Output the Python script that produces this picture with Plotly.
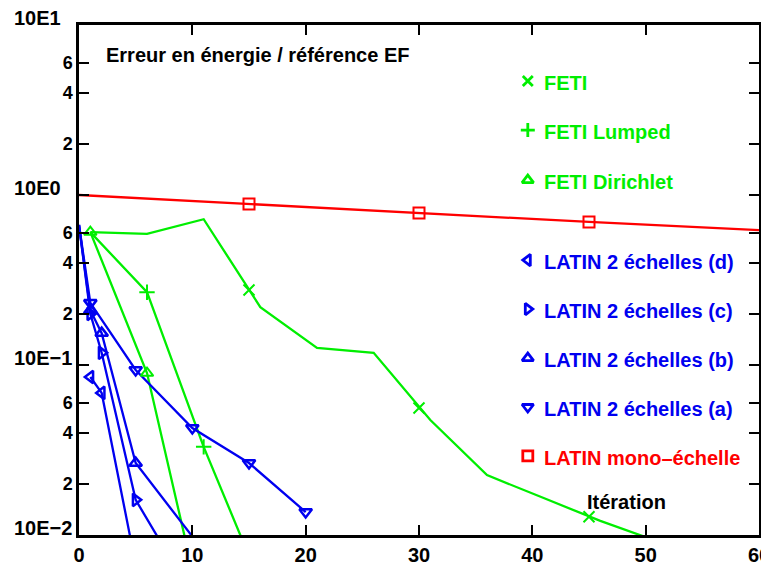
import math
import plotly.graph_objects as go

# ---------------- data ----------------
feti_x = [1, 6, 11, 16, 21, 26, 31, 36, 41, 46, 51]
feti_y = [0.605, 0.59, 0.72, 0.219, 0.126, 0.118, 0.0475, 0.0225, 0.0165, 0.0121, 0.0092]
feti_mx = [15, 30, 45]
feti_my = [0.276, 0.0558, 0.0128]

lumped_x = [1, 6, 11, 16]
lumped_y = [0.605, 0.268, 0.033, 0.0052]
lumped_mx = [6, 11]
lumped_my = [0.268, 0.033]

dirichlet_x = [1, 6, 11]
dirichlet_y = [0.605, 0.0897, 0.0032]
dirichlet_mx = [1, 6]
dirichlet_my = [0.605, 0.0897]

latin_d_x = [1, 2, 5]
latin_d_y = [0.085, 0.0685, 0.0067]
latin_d_mx = [1, 2]
latin_d_my = [0.085, 0.0685]

latin_c_x = [0, 1, 2, 5, 8]
latin_c_y = [0.667, 0.20, 0.118, 0.0161, 0.0074]
latin_c_mx = [1, 2, 5]
latin_c_my = [0.20, 0.118, 0.0161]

latin_b_x = [0, 1, 2, 5, 10]
latin_b_y = [0.667, 0.21, 0.154, 0.0265, 0.0098]
latin_b_mx = [1, 2, 5]
latin_b_my = [0.21, 0.154, 0.0265]

latin_a_x = [0, 1, 5, 10, 15, 20]
latin_a_y = [0.667, 0.232, 0.0935, 0.0426, 0.0265, 0.01365]
latin_a_mx = [1, 5, 10, 15, 20]
latin_a_my = [0.232, 0.0935, 0.0426, 0.0265, 0.01365]

mono_x = [0, 15, 30, 45, 60]
mono_y = [1.0, 0.885, 0.784, 0.694, 0.622]
mono_mx = [15, 30, 45]
mono_my = [0.885, 0.784, 0.694]

legend_names = ["FETI", "FETI Lumped", "FETI Dirichlet",
                "LATIN 2 échelles (d)", "LATIN 2 échelles (c)",
                "LATIN 2 échelles (b)", "LATIN 2 échelles (a)",
                "LATIN mono\u2013échelle"]

x_tickvals = [0, 10, 20, 30, 40, 50, 60]
y_tickvals = [0.01, 0.02, 0.04, 0.06, 0.1, 0.2, 0.4, 0.6, 1, 2, 4, 6, 10]
y_ticktext = ["", "2", "4", "6", "", "2", "4", "6", "", "2", "4", "6", ""]
decade_vals = [10, 1, 0.1, 0.01]
decade_text = ["10E1", "10E0", "10E\u22121", "10E\u22122"]

# ---------------- styles ----------------
GREEN = "#00ee00"
BLUE = "#0000f0"
RED = "#ff0000"
FONT = "Liberation Sans"
MS = 11
LW = 2.3

series = [
    (feti_x, feti_y, feti_mx, feti_my, GREEN, "x-thin", 2),
    (lumped_x, lumped_y, lumped_mx, lumped_my, GREEN, "cross-thin", 2),
    (dirichlet_x, dirichlet_y, dirichlet_mx, dirichlet_my, GREEN, "triangle-up-open", 2),
    (latin_d_x, latin_d_y, latin_d_mx, latin_d_my, BLUE, "triangle-left-open", 2.5),
    (latin_c_x, latin_c_y, latin_c_mx, latin_c_my, BLUE, "triangle-right-open", 2.5),
    (latin_b_x, latin_b_y, latin_b_mx, latin_b_my, BLUE, "triangle-up-open", 2.5),
    (latin_a_x, latin_a_y, latin_a_mx, latin_a_my, BLUE, "triangle-down-open", 2.5),
    (mono_x, mono_y, mono_mx, mono_my, RED, "square-open", 2),
]

fig = go.Figure()
for lx, ly, mx, my, col, sym, mlw in series:
    fig.add_trace(go.Scatter(x=lx, y=ly, mode="lines",
                             line=dict(color=col, width=LW),
                             showlegend=False, hoverinfo="skip"))
for lx, ly, mx, my, col, sym, mlw in series:
    fig.add_trace(go.Scatter(x=mx, y=my, mode="markers",
                             marker=dict(symbol=sym, size=MS, color=col,
                                         line=dict(color=col, width=mlw)),
                             showlegend=False, cliponaxis=False))

# legend: markers on an overlay axis, labels as annotations
leg_x = [0.660] * len(legend_names)
leg_y = [0.890, 0.794, 0.696, 0.539, 0.443, 0.347, 0.251, 0.155]
leg_cols = [s[4] for s in series]
leg_syms = [s[5] for s in series]
fig.add_trace(go.Scatter(
    x=leg_x, y=leg_y, xaxis="x2", yaxis="y2", mode="markers",
    marker=dict(symbol=leg_syms, size=10, color=leg_cols,
                line=dict(color=leg_cols, width=2.8)),
    showlegend=False, hoverinfo="skip", cliponaxis=False))

annotations = []
for name, yy, col in zip(legend_names, leg_y, leg_cols):
    annotations.append(dict(x=0.681, xref="paper", xanchor="left",
                            y=yy - 0.004, yref="paper", yanchor="middle",
                            text=name, showarrow=False,
                            font=dict(family=FONT, size=20, color=col, weight="bold")))
for v, t in zip(decade_vals, decade_text):
    annotations.append(dict(x=-0.0985, xref="paper", xanchor="left",
                            y=math.log10(v), yref="y", yanchor="middle",
                            yshift=7, text=t, showarrow=False,
                            font=dict(family=FONT, size=20, color="black", weight="bold")))
annotations.append(dict(x=0.037, y=0.941, xref="paper", yref="paper",
                        xanchor="left", yanchor="middle", showarrow=False,
                        text="Erreur en énergie / référence EF",
                        font=dict(family=FONT, size=20, color="black", weight="bold")))
annotations.append(dict(x=0.744, y=0.065, xref="paper", yref="paper",
                        xanchor="left", yanchor="middle", showarrow=False,
                        text="Itération",
                        font=dict(family=FONT, size=20, color="black", weight="bold")))

axis_common = dict(showline=True, linecolor="black", linewidth=2.5, mirror="ticks",
                   ticks="inside", ticklen=10, tickwidth=2, tickcolor="black",
                   showgrid=False, zeroline=False, automargin=False,
                   ticklabeloverflow="allow")

# the page body adds an 8px offset; figure is sized to compensate
fig.update_layout(
    template="none",
    width=761, height=566,
    margin=dict(l=71, r=10, t=17, b=39, autoexpand=False),
    paper_bgcolor="white", plot_bgcolor="white",
    font=dict(family=FONT, color="black"),
    xaxis=dict(range=[0, 60], tickvals=x_tickvals,
               tickfont=dict(family=FONT, size=20, weight="bold"), **axis_common),
    yaxis=dict(type="log", range=[-2, 1], tickvals=y_tickvals, ticktext=y_ticktext,
               tickfont=dict(family=FONT, size=18, weight="bold"), **axis_common),
    xaxis2=dict(overlaying="x", range=[0, 1], visible=False),
    yaxis2=dict(overlaying="y", range=[0, 1], visible=False),
    annotations=annotations,
)

fig.write_html("out.html")
